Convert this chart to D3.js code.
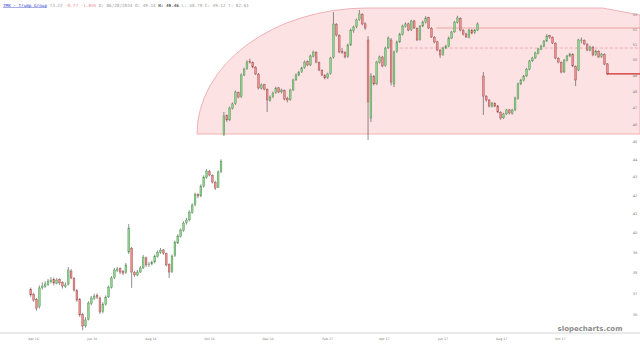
<!DOCTYPE html>
<html>
<head>
<meta charset="UTF-8">
<script src="https://d3js.org/d3.v7.min.js"></script>
<style>
  body { margin: 0; background: #fff; }
  svg { display: block; }
</style>
</head>
<body>
<svg id="chart" width="640" height="345"></svg>
<script>
var width = 640, height = 345;
var parse = d3.timeParse("%Y-%m-%d");

// bars start here, one bar every 3 calendar days
var firstBar = parse("2016-03-29");
var barStep = 3;

// [open, high, low, close]  (null = no bar)
var ohlc = [
  [37.20,37.30,36.85,36.94],[36.98,37.05,36.62,36.70],[36.72,36.80,36.20,36.32],[36.40,37.40,36.30,37.28],[37.30,37.55,37.20,37.37],
  [37.35,37.60,37.28,37.47],[37.45,37.72,37.38,37.61],[37.58,37.80,37.50,37.66],[37.70,37.78,37.40,37.52],[37.50,37.75,37.45,37.66],
  [37.68,37.74,37.42,37.52],[37.55,37.60,37.25,37.37],[37.35,37.55,37.28,37.42],[37.45,38.30,37.40,38.15],[38.10,38.20,37.70,37.76],
  [37.74,37.80,37.10,37.18],[37.15,37.22,36.62,36.70],[36.72,36.80,35.92,36.00],[36.02,36.10,35.30,35.49],[35.50,35.90,35.42,35.77],
  [35.80,36.65,35.75,36.56],[36.55,36.90,36.45,36.80],[36.78,37.00,36.70,36.89],[36.92,37.02,36.75,36.84],[36.80,36.86,36.05,36.14],
  [36.15,36.60,36.08,36.51],[36.50,36.92,36.44,36.84],[36.85,37.40,36.80,37.32],[37.30,37.85,37.25,37.76],[37.78,38.25,37.70,38.15],
  [38.12,38.30,38.05,38.20],[38.22,38.28,37.95,38.05],[38.08,38.15,37.90,38.00],[38.02,38.50,37.96,38.40],[39.04,40.48,38.95,40.27],
  [39.24,39.30,37.28,38.05],[38.02,38.10,37.82,37.91],[37.90,38.15,37.85,38.05],[38.05,38.35,38.00,38.25],[38.25,38.90,38.20,38.79],
  [38.75,38.82,38.30,38.40],[38.42,38.55,38.30,38.44],[38.45,38.62,38.38,38.54],[38.55,38.92,38.48,38.84],[38.82,39.12,38.76,39.04],
  [39.02,39.25,38.95,39.14],[39.15,39.20,38.90,38.99],[38.96,39.02,38.32,38.40],[38.42,38.48,37.76,38.05],[38.08,38.92,38.00,38.84],
  [38.86,39.62,38.80,39.55],[39.50,39.95,39.45,39.86],[39.84,40.25,39.78,40.17],[40.15,40.62,40.08,40.53],[40.55,40.80,40.45,40.69],
  [40.70,41.20,40.62,41.11],[41.10,41.58,41.02,41.48],[41.50,42.15,41.42,42.07],[42.05,42.12,41.85,41.97],[41.98,42.60,41.90,42.51],
  [42.50,43.10,42.42,43.01],[43.00,43.45,42.92,43.34],[43.32,43.40,43.05,43.12],[43.10,43.16,42.65,42.73],[42.72,42.80,42.30,42.40],
  [42.45,43.38,42.40,43.29],[43.30,44.00,43.22,43.90],[45.46,46.77,45.34,46.53],[46.55,46.62,46.18,46.29],[46.30,47.10,46.22,47.01],
  [47.00,47.35,46.92,47.26],[47.28,48.08,47.20,47.99],[47.95,48.02,47.60,47.68],[47.70,49.15,47.62,49.06],[49.05,49.52,48.98,49.43],
  [49.45,50.00,49.38,49.88],[49.90,50.10,49.78,49.88],[49.86,49.92,49.48,49.56],[49.55,49.62,49.05,49.12],[49.10,49.18,48.15,48.24],
  [48.22,48.52,48.15,48.43],[48.45,48.50,48.10,48.17],[48.15,48.22,46.77,47.50],[47.48,47.78,47.40,47.68],[47.70,48.02,47.62,47.93],
  [47.95,48.32,47.88,48.24],[48.25,48.30,47.92,47.99],[48.00,48.20,47.90,48.11],[48.10,48.15,47.48,47.56],[47.58,47.70,47.35,47.50],
  [47.52,48.20,47.45,48.11],[48.12,48.82,48.05,48.74],[48.75,49.15,48.68,49.06],[49.05,49.32,48.98,49.24],[49.26,49.58,49.18,49.50],
  [49.52,49.98,49.45,49.88],[49.90,49.98,49.62,49.69],[49.70,50.36,49.62,50.27],[50.25,50.62,50.18,50.53],[50.50,50.58,49.80,49.88],
  [49.86,49.92,49.30,49.37],[49.35,49.42,48.98,49.06],[49.04,49.10,48.78,48.87],[48.88,49.20,48.80,49.12],[49.15,50.22,49.08,50.14],
  [50.20,53.20,50.10,52.39],[52.35,52.45,51.55,51.65],[51.62,51.70,50.45,50.53],[50.55,50.80,50.40,50.53],[50.50,50.58,50.12,50.21],
  [50.22,51.08,50.15,50.99],[51.00,52.08,50.92,51.98],[51.95,52.28,51.80,52.18],[52.20,52.75,52.10,52.66],[52.68,53.34,52.60,53.07],
  [53.05,53.12,52.30,52.39],[52.40,52.50,52.00,52.12],[51.32,51.58,45.11,47.38],[46.41,49.18,46.17,48.99],[48.95,49.05,48.40,48.49],
  [48.50,49.96,48.42,49.88],[49.85,50.30,49.78,50.21],[50.20,50.28,49.55,49.63],[49.65,50.88,49.58,50.79],[50.80,51.55,50.72,51.45],
  [51.32,51.45,48.40,48.61],[48.49,50.62,48.30,50.53],[50.55,51.28,50.48,51.19],[51.20,51.80,51.12,51.71],[51.70,52.35,51.62,52.25],
  [52.22,52.50,52.15,52.39],[52.40,52.48,51.90,51.98],[52.00,52.68,51.92,52.59],[52.60,52.66,52.05,52.12],[52.10,52.15,51.25,51.32],
  [51.35,52.32,51.28,52.25],[52.25,52.62,52.18,52.52],[52.50,52.92,52.42,52.80],[52.82,52.88,52.05,52.12],[52.10,52.18,51.45,51.52],
  [51.50,51.58,51.10,51.19],[51.20,51.26,50.58,50.66],[50.65,50.72,50.14,50.34],[50.36,50.88,50.28,50.79],[50.80,51.00,50.72,50.92],
  [50.90,51.55,50.84,51.45],[51.45,51.92,51.38,51.85],[51.86,52.60,51.80,52.52],[52.50,52.95,52.42,52.80],[52.78,52.85,51.90,51.98],
  [51.96,52.05,51.62,51.71],[51.72,51.80,51.45,51.52],[51.50,52.06,51.44,51.98],[51.98,52.04,51.70,51.78],[51.80,52.05,51.72,51.98],
  [51.98,52.50,51.92,52.39],null,[48.99,49.24,46.59,47.74],[47.72,47.80,47.40,47.50],[47.50,47.56,47.05,47.13],
  [47.12,47.38,47.05,47.31],[47.30,47.36,47.06,47.13],[47.14,47.20,46.70,46.77],[46.75,46.82,46.30,46.41],[46.42,46.72,46.35,46.65],
  [46.66,46.96,46.58,46.89],[46.90,46.95,46.62,46.71],[46.70,46.96,46.62,46.89],[46.90,47.70,46.82,47.62],[47.60,48.58,47.52,48.49],
  [48.50,48.82,48.42,48.74],[48.72,49.06,48.65,48.99],[49.00,49.50,48.92,49.43],[49.42,50.02,49.35,49.95],[49.96,50.22,49.88,50.14],
  [50.15,50.55,50.08,50.47],[50.45,50.80,50.38,50.73],[50.72,51.00,50.65,50.92],[50.92,51.32,50.85,51.25],[51.26,51.70,51.18,51.58],
  [51.60,51.66,51.40,51.52],[51.50,51.56,51.05,51.12],[51.10,51.16,50.06,50.14],[50.12,50.20,49.80,49.88],[49.85,49.92,49.16,49.24],
  [49.25,50.08,49.18,50.01],[50.00,50.35,49.92,50.27],[50.28,50.48,50.20,50.40],[50.38,50.45,49.55,49.63],[49.60,49.66,48.36,48.74],
  [49.37,51.40,49.30,51.32],[51.30,51.50,51.10,51.32],[51.30,51.36,50.98,51.06],[51.05,51.10,50.58,50.66],[50.65,50.94,50.58,50.86],
  [50.85,50.92,50.26,50.34],[50.35,50.68,50.28,50.60],[50.58,50.65,50.14,50.21],[50.22,50.48,50.15,50.40],[50.38,50.45,49.68,49.75],
  [49.76,49.82,49.05,49.12]
];

var xTicks = ["2016-04-01","2016-06-01","2016-08-01","2016-10-01","2016-12-01","2017-02-01","2017-04-01","2017-06-01","2017-08-01","2017-10-01"];
var yTicks = [36,37,38,39,40,41,42,43,44,45,46,47,48,49,50,51,52,53];

// shaded zone drawn on the chart
var zoneBottom = 45.46, zoneTop = 53.48, zoneRightEnd = 53.0;
var zoneStart = "2016-09-18", zoneArcEnd = "2017-03-14", zoneFlatEnd = "2017-11-14";
// horizontal levels
var levelSolid = 52.12, levelSolidFrom = "2017-05-25";
var levelDashed = 50.79, levelDashedFrom = "2017-04-17";

var svg = d3.select("#chart");

var x = d3.scaleTime()
    .domain([parse("2016-02-26"), parse("2017-12-23")])
    .range([0, width]);
var y = d3.scaleLog()
    .domain([36, 53])
    .range([315, 15]);

// zone
var x0 = x(parse(zoneStart)), x1 = x(parse(zoneArcEnd)), x2 = x(parse(zoneFlatEnd));
var yb = y(zoneBottom), yt = y(zoneTop), yr = y(zoneRightEnd);
svg.append("path")
    .attr("d", "M" + x0 + "," + yb +
        " A" + (x1 - x0) + "," + (yb - yt) + " 0 0 1 " + x1 + "," + yt +
        " L" + x2 + "," + yt + " L" + width + "," + yr +
        " L" + width + "," + yb + " Z")
    .attr("fill", "#fde2e4")
    .attr("stroke", "#eba2a4")
    .attr("stroke-width", 0.8);

svg.append("line")
    .attr("x1", x(parse(levelSolidFrom))).attr("x2", width)
    .attr("y1", y(levelSolid)).attr("y2", y(levelSolid))
    .attr("stroke", "#e79597").attr("stroke-width", 0.8);
svg.append("line")
    .attr("x1", x(parse(levelDashedFrom))).attr("x2", width)
    .attr("y1", y(levelDashed)).attr("y2", y(levelDashed))
    .attr("stroke", "#e9a0a2").attr("stroke-width", 0.8)
    .attr("stroke-dasharray", "3,2");

// candles
var bars = ohlc.map(function(d, i) {
    if (!d) return null;
    return { date: d3.timeDay.offset(firstBar, i * barStep), o: d[0], h: d[1], l: d[2], c: d[3] };
}).filter(function(d) { return d; });

var bodyW = 1.8;
var g = svg.append("g");
var candle = g.selectAll("g.c")
    .data(bars)
    .enter().append("g");

candle.append("line")
    .attr("x1", function(d) { return x(d.date); })
    .attr("x2", function(d) { return x(d.date); })
    .attr("y1", function(d) { return y(d.h); })
    .attr("y2", function(d) { return y(d.l); })
    .attr("stroke", "#444")
    .attr("stroke-width", 0.6);

candle.append("rect")
    .attr("x", function(d) { return x(d.date) - bodyW / 2; })
    .attr("y", function(d) { return y(Math.max(d.o, d.c)); })
    .attr("width", bodyW)
    .attr("height", function(d) { return Math.max(0.6, Math.abs(y(d.o) - y(d.c))); })
    .attr("fill", function(d) { return d.c >= d.o ? "#8fd18f" : "#e88f8f"; })
    .attr("stroke", function(d) { return d.c >= d.o ? "#4f8f4f" : "#a04848"; })
    .attr("stroke-width", 0.4);

// last price line
var last = bars[bars.length - 1];
svg.append("line")
    .attr("x1", x(last.date)).attr("x2", width)
    .attr("y1", y(last.c)).attr("y2", y(last.c))
    .attr("stroke", "#cc2a2a").attr("stroke-width", 1.2);

// y labels on the right
svg.append("g").selectAll("text")
    .data(yTicks)
    .enter().append("text")
    .attr("x", 635)
    .attr("y", function(d) { return y(d) + 1.2; })
    .attr("text-anchor", "middle")
    .attr("font-family", "DejaVu Sans")
    .attr("font-size", 3.5)
    .attr("fill", "#777")
    .text(function(d) { return d; });

// x axis
svg.append("line")
    .attr("x1", 0).attr("x2", width)
    .attr("y1", 333).attr("y2", 333)
    .attr("stroke", "#d4d4d4").attr("stroke-width", 1);

var fmt = d3.timeFormat("%b %y");
svg.append("g").selectAll("text")
    .data(xTicks)
    .enter().append("text")
    .attr("x", function(d) { return x(parse(d)); })
    .attr("y", 340)
    .attr("text-anchor", "middle")
    .attr("font-family", "DejaVu Sans")
    .attr("font-size", 3.2)
    .attr("fill", "#777")
    .text(function(d) { return fmt(parse(d)); });

// watermark
svg.append("text")
    .attr("x", 590).attr("y", 331)
    .attr("text-anchor", "middle")
    .attr("font-family", "DejaVu Sans")
    .attr("font-weight", "bold")
    .attr("font-size", 7)
    .attr("fill", "#8c8c8c")
    .text("slopecharts.com");

// header
var header = svg.append("text")
    .attr("x", 3).attr("y", 6.5)
    .attr("font-family", "DejaVu Sans Mono")
    .attr("font-size", 4.3)
    .attr("xml:space", "preserve");
header.append("tspan").attr("fill", "#3344cc").attr("text-decoration", "underline").text("TMK - Trump Group");
header.append("tspan").attr("fill", "#999").text(" 73.22");
header.append("tspan").attr("fill", "#ea8a8a").text(" -0.77 -1.05%");
header.append("tspan").attr("fill", "#999").text(" D: 06/28/2024 O: 49.14");
header.append("tspan").attr("fill", "#555").attr("font-weight", "bold").text(" H: 49.46");
header.append("tspan").attr("fill", "#999").text(" L: 48.79 C: 49.12 T: 82.61");
</script>
</body>
</html>
